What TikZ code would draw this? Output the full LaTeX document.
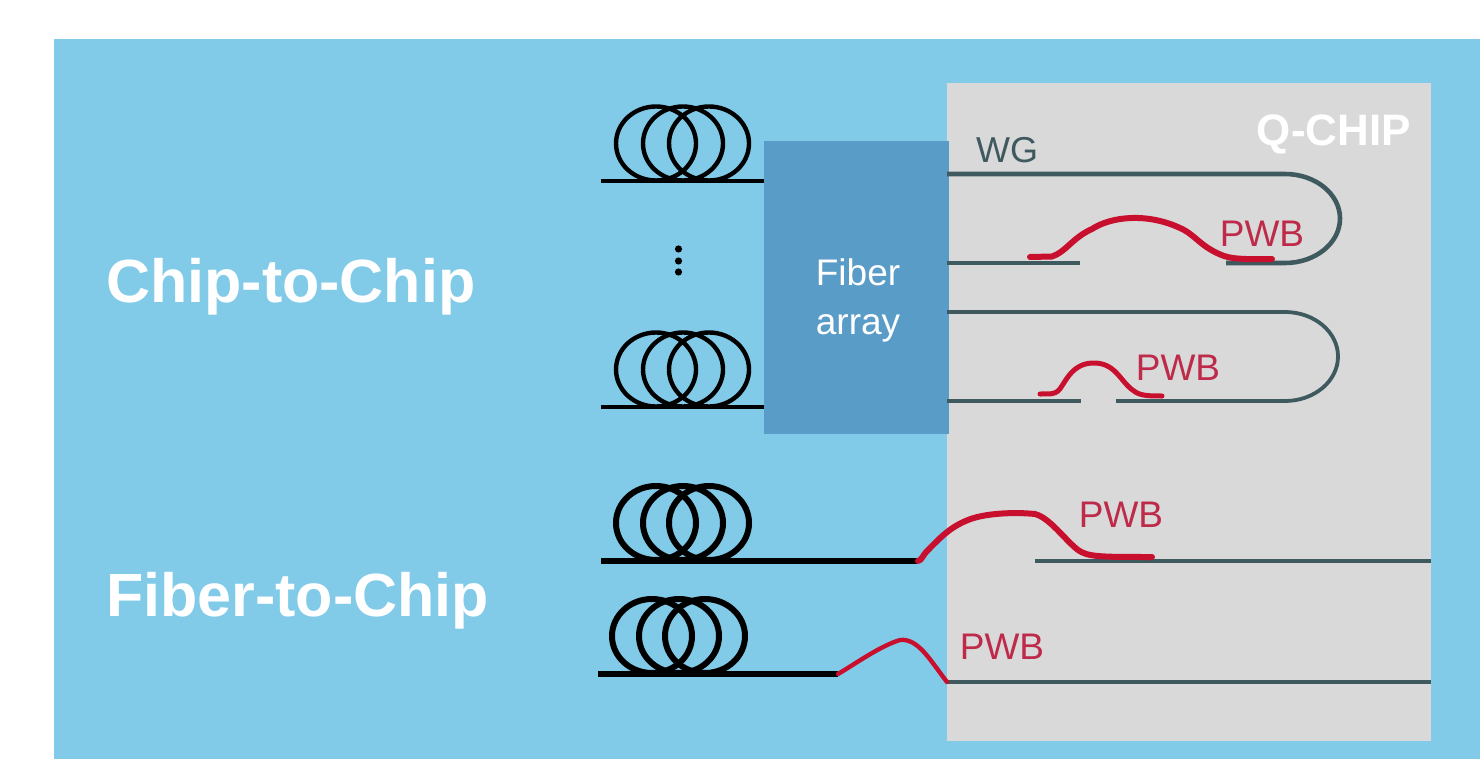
\documentclass[tikz,border=0pt]{standalone}
\usepackage{fontspec}
\setmainfont{Liberation Sans}
\definecolor{sky}{HTML}{81CBE9}
\definecolor{chip}{HTML}{D9D9D9}
\definecolor{arr}{HTML}{5A9CC8}
\definecolor{wg}{HTML}{3F5A5E}
\definecolor{pwb}{HTML}{C8102E}
\definecolor{pwbt}{HTML}{BE2A4A}
\tikzset{
  fiberline/.style={draw=black,line width=3.4pt},
  fiberthick/.style={draw=black,line width=5.6pt},
  wgline/.style={draw=wg,line width=4.6pt},
  wgthin/.style={draw=wg,line width=3.8pt},
  bond/.style={draw=pwb,line width=6pt,line cap=round,line join=round},
  bondthin/.style={draw=pwb,line width=5pt,line cap=round,line join=round},
  pwblabel/.style={text=pwbt,font=\fontsize{37}{37}\selectfont,inner sep=0pt},
  heading/.style={text=white,font=\bfseries\fontsize{61}{61}\selectfont,inner sep=0pt,anchor=west},
  coil/.pic={
    \draw[line width=#1] (-27,0) ellipse [x radius=40,y radius=37];
    \draw[line width=#1] (0,0) ellipse [x radius=40,y radius=37];
    \draw[line width=#1] (26,0) ellipse [x radius=40,y radius=37];
  }
}
\begin{document}
\begin{tikzpicture}[x=1pt,y=-1pt]
\useasboundingbox (0,0) rectangle (1480,759);
\fill[white] (0,0) rectangle (1480,759);
\fill[sky] (54,39) rectangle (1480,759);
\fill[chip] (947,83) rectangle (1431,741);
\node[heading] (c2c) at (106,287) {Chip-to-Chip};
\node[heading] (f2c) at (106,601) {Fiber-to-Chip};
\node[text=white,font=\bfseries\fontsize{44}{44}\selectfont,inner sep=0pt,anchor=east] (qchip) at (1411,134) {Q-CHIP};
\node[text=wg,font=\fontsize{36}{36}\selectfont,inner sep=0pt] (wglabel) at (1007,150) {WG};
% coils and fibres
\pic at (683,143.5) {coil=4.4pt};
\pic at (683,369.5) {coil=4.4pt};
\pic at (683,523) {coil=6pt};
\pic at (679,636) {coil=6pt};
\node[fill=arr,inner sep=0pt,minimum width=185pt,minimum height=292pt] (array) at (856.5,287.5) {};
\node[text=white,font=\fontsize{37}{49}\selectfont,inner sep=0pt,align=center] (arraylabel) at (858,300) {Fiber\\array};
\coordinate (f1) at (601,181);
\coordinate (f2) at (601,407);
\draw[fiberline] (f1) -- (f1-|array.west);
\draw[fiberline] (f2) -- (f2-|array.west);
\foreach \y in {249,261,272} \fill (678.5,\y) circle (3.6pt);
% waveguides
\coordinate (a1) at (947,174);
\coordinate (a2) at (947,263);
\coordinate (a3) at (947,312);
\coordinate (a4) at (947,401);
\draw[wgline] (a1) -- (1285,174) arc[start angle=-90,end angle=90,x radius=55,y radius=44.5] -- (1226,263);
\draw[wgline] (a2) -- (1080,263);
\draw[wgthin] (a3) -- (1285,312) arc[start angle=-90,end angle=90,x radius=53,y radius=44.5] -- (1116,401);
\draw[wgline] (a4) -- (1081,401);
% wire bonds
\draw[bond] (1030,257) -- (1052,256.5) .. controls (1066,252) and (1072,238) .. (1092,229) .. controls (1112,216) and (1148,213) .. (1180,228) .. controls (1196,235) and (1200,247) .. (1224,256) .. controls (1236,260) and (1255,259) .. (1272,259);
\draw[bondthin] (1040,394) .. controls (1052,394) and (1054,394) .. (1058,391) .. controls (1064,386) and (1070,364) .. (1092,363) .. controls (1116,362) and (1120,382) .. (1134,391) .. controls (1140,396) and (1150,396) .. (1162,396);
\node[pwblabel] (p1) at (1262,234) {PWB};
\node[pwblabel] (p2) at (1178,368) {PWB};
\coordinate (f3a) at (601,561);
\coordinate (f3b) at (918,561);
\draw[fiberthick] (f3a) -- (f3b);
\coordinate (w3) at (1035,561);
\coordinate (w3e) at (1431,561);
\draw[wgline] (w3) -- (w3e);
\draw[bond] (f3b) .. controls (922,560) and (922,556) .. (928,550) .. controls (940,538) and (950,527) .. (968,520) .. controls (985,513) and (1015,512) .. (1035,514) .. controls (1050,518) and (1065,540) .. (1078,550) .. controls (1088,557) and (1100,557) .. (1152,557);
\node[pwblabel] (p3) at (1121,515) {PWB};
\coordinate (f4a) at (598,674);
\coordinate (f4b) at (838,674);
\draw[fiberthick] (f4a) -- (f4b);
\coordinate (w4) at (947,682);
\coordinate (w4e) at (1431,682);
\draw[wgthin] (w4) -- (w4e);
\draw[draw=pwb,line width=4.4pt,line cap=round,line join=round] (f4b) .. controls (855,664) and (880,646) .. (900,640) .. controls (918,638) and (930,660) .. (w4);
\node[pwblabel] (p4) at (1002,647) {PWB};
\end{tikzpicture}
\end{document}
